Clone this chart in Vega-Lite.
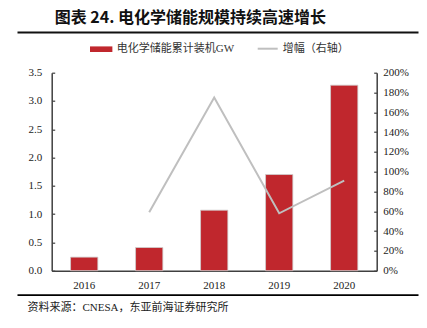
{
  "$schema": "https://vega.github.io/schema/vega-lite/v6.json",
  "width": 325,
  "height": 198,
  "autosize": {"type": "none"},
  "padding": {"left": 51.7, "top": 72.7, "right": 50.3, "bottom": 57.3},
  "background": "white",
  "config": {
    "view": {"stroke": null},
    "axis": {"labelFont": "Liberation Serif", "labelFontSize": 11, "labelColor": "#222", "grid": false, "title": null},
    "legend": {"labelFont": "Liberation Serif, Noto Sans CJK SC", "labelFontSize": 11, "labelColor": "#333", "padding": 0}
  },
  "title": {
    "text": "图表 24. 电化学储能规模持续高速增长",
    "anchor": "start",
    "frame": "group",
    "font": "Noto Sans CJK SC",
    "fontSize": 16,
    "fontWeight": "bold",
    "color": "#111",
    "dx": 3,
    "offset": 6
  },
  "data": {
    "values": [
      {"year": "2016", "cap": 0.24, "growth": null},
      {"year": "2017", "cap": 0.41, "growth": 0.59},
      {"year": "2018", "cap": 1.07, "growth": 1.75},
      {"year": "2019", "cap": 1.70, "growth": 0.58},
      {"year": "2020", "cap": 3.28, "growth": 0.91}
    ]
  },
  "layer": [
    {
      "mark": {"type": "rule", "opacity": 0},
      "encoding": {
        "x": {
          "datum": 0, "type": "quantitative",
          "scale": {"domain": [0, 1], "range": [-34.7, 366.3]},
          "axis": {"orient": "top", "offset": 40.7, "domain": true, "domainColor": "#111111", "domainWidth": 2, "labels": false, "ticks": false, "title": null}
        }
      }
    },
    {
      "layer": [
        {
          "mark": {"type": "bar", "stroke": "#cfcfcf", "strokeWidth": 0.8},
          "encoding": {
            "x": {
              "field": "year", "type": "nominal",
              "scale": {"type": "band", "paddingInner": 0.58, "paddingOuter": 0.29},
              "axis": {"orient": "bottom", "labelAngle": 0, "ticks": false, "domain": true, "domainColor": "#404040", "domainWidth": 1.5, "labelPadding": 9}
            },
            "y": {
              "field": "cap", "type": "quantitative",
              "scale": {"domain": [0, 3.5]},
              "axis": {"orient": "left", "values": [0, 0.5, 1, 1.5, 2, 2.5, 3, 3.5], "format": ".1f", "domainColor": "#404040", "domainWidth": 1.5, "tickColor": "#404040", "tickSize": -3, "tickWidth": 1.2, "labelPadding": 13}
            },
            "color": {
              "datum": "电化学储能累计装机GW", "type": "nominal",
              "scale": {"range": ["#C0272D"]},
              "legend": {"orient": "none", "legendX": 38, "legendY": -35, "symbolType": "M-1,-0.25L1,-0.25L1,0.25L-1,0.25Z", "symbolSize": 500, "symbolStrokeWidth": 0, "title": null}
            }
          }
        },
        {
          "mark": {"type": "line", "strokeWidth": 2},
          "encoding": {
            "x": {"field": "year", "type": "nominal"},
            "y": {
              "field": "growth", "type": "quantitative",
              "scale": {"domain": [0, 2]},
              "axis": {"orient": "right", "values": [0, 0.2, 0.4, 0.6, 0.8, 1, 1.2, 1.4, 1.6, 1.8, 2], "format": ".0%", "domainColor": "#404040", "domainWidth": 1.5, "tickColor": "#404040", "tickSize": -3, "tickWidth": 1.2, "labelPadding": 9}
            },
            "stroke": {
              "datum": "增幅（右轴）", "type": "nominal",
              "scale": {"range": ["#BFBFBF"]},
              "legend": {"orient": "none", "legendX": 205, "legendY": -35, "symbolType": "stroke", "symbolStrokeWidth": 2, "symbolSize": 400, "title": null}
            }
          }
        }
      ],
      "resolve": {"scale": {"y": "independent"}}
    },
    {
      "mark": {"type": "rule", "opacity": 0},
      "encoding": {
        "x": {
          "datum": 0, "type": "quantitative",
          "scale": {"domain": [0, 1], "range": [-34.7, 366.3]},
          "axis": {"orient": "bottom", "offset": 24, "domain": true, "domainColor": "#000", "domainWidth": 1.8, "labels": false, "ticks": false,
            "title": "资料来源：CNESA，东亚前海证券研究所",
            "titleFont": "Liberation Serif, Noto Sans CJK SC", "titleFontSize": 11, "titleFontWeight": "normal", "titleColor": "#222",
            "titleX": -24.7, "titleY": 16, "titleAlign": "left", "titleBaseline": "alphabetic", "titleAnchor": "start"}
        }
      }
    }
  ],
  "resolve": {"scale": {"x": "independent"}, "axis": {"x": "independent"}}
}
